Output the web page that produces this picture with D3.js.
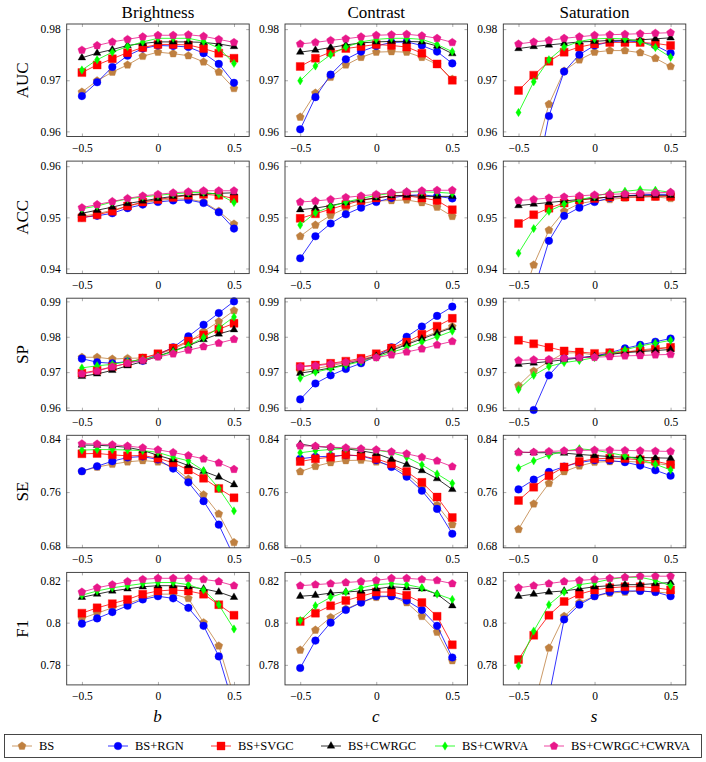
<!DOCTYPE html>
<html><head><meta charset="utf-8">
<script src="https://cdn.jsdelivr.net/npm/d3@7"></script>
<style>
html,body{margin:0;padding:0;background:#fff;}
svg text{font-family:"Liberation Serif","DejaVu Serif",serif;fill:#000;font-weight:400;}
</style></head>
<body><svg id="chart" width="706" height="762"></svg>
<script>
// ---------- data ----------
const xValues = [-0.5,-0.4,-0.3,-0.2,-0.1,0,0.1,0.2,0.3,0.4,0.5];
const xTicks = [-0.5,0,0.5];
const seriesNames = ["BS","BS+RGN","BS+SVGC","BS+CWRGC","BS+CWRVA","BS+CWRGC+CWRVA"];
const seriesColors = ["#bf8040","#0000ff","#ff0000","#000000","#00ff00","#e8178a"];
const seriesMarks = ["pentagon","circle","square","triangle","diamond","pentagon"];
const columnTitles = ["Brightness","Contrast","Saturation"];
const columnAxisLabels = ["b","c","s"];
const rowMetrics = ["AUC","ACC","SP","SE","F1"];
const rowYTicks = [[0.96,0.97,0.98],[0.94,0.95,0.96],[0.96,0.97,0.98,0.99],[0.68,0.76,0.84],[0.78,0.80,0.82]];
const rowYDomains = [[0.959,0.981],[0.939,0.961],[0.9591,0.9909],[0.6765,0.8451],[0.7705,0.8238]];

// rows of each array follow seriesNames order
const aucBrightness = [
 [0.9677,0.9699,0.9716,0.9730,0.9747,0.9755,0.9752,0.9748,0.9736,0.9716,0.9684],
 [0.9669,0.9696,0.9726,0.9748,0.9762,0.9768,0.9767,0.9765,0.9753,0.9732,0.9695],
 [0.9715,0.9730,0.9742,0.9754,0.9764,0.9770,0.9770,0.9769,0.9762,0.9753,0.9743],
 [0.9744,0.9753,0.9760,0.9768,0.9772,0.9775,0.9775,0.9775,0.9774,0.9771,0.9766],
 [0.9720,0.9740,0.9755,0.9766,0.9775,0.9782,0.9782,0.9782,0.9776,0.9763,0.9733],
 [0.9759,0.9768,0.9775,0.9780,0.9785,0.9788,0.9788,0.9789,0.9786,0.9780,0.9774]];
const aucContrast = [
 [0.9628,0.9675,0.9706,0.9730,0.9745,0.9755,0.9756,0.9755,0.9745,0.9731,0.9702],
 [0.9604,0.9667,0.9711,0.9741,0.9756,0.9767,0.9774,0.9775,0.9768,0.9756,0.9733],
 [0.9727,0.9743,0.9755,0.9762,0.9766,0.9770,0.9768,0.9765,0.9753,0.9732,0.9700],
 [0.9755,0.9759,0.9764,0.9769,0.9773,0.9775,0.9776,0.9776,0.9775,0.9767,0.9752],
 [0.9699,0.9728,0.9750,0.9765,0.9775,0.9780,0.9782,0.9782,0.9780,0.9770,0.9756],
 [0.9771,0.9774,0.9778,0.9781,0.9785,0.9788,0.9789,0.9790,0.9787,0.9782,0.9774]];
const aucSaturation = [
 [0.9450,0.9546,0.9653,0.9718,0.9740,0.9755,0.9758,0.9758,0.9754,0.9743,0.9727],
 [0.9350,0.9480,0.9630,0.9717,0.9750,0.9768,0.9775,0.9777,0.9775,0.9768,0.9753],
 [0.9680,0.9710,0.9737,0.9755,0.9765,0.9771,0.9774,0.9774,0.9774,0.9772,0.9768],
 [0.9762,0.9766,0.9769,0.9772,0.9775,0.9776,0.9778,0.9778,0.9779,0.9781,0.9783],
 [0.9637,0.9697,0.9740,0.9765,0.9776,0.9781,0.9782,0.9781,0.9776,0.9764,0.9745],
 [0.9771,0.9775,0.9778,0.9782,0.9785,0.9788,0.9789,0.9790,0.9791,0.9792,0.9793]];
const accBrightness = [
 [0.9502,0.9507,0.9514,0.9522,0.9528,0.9533,0.9536,0.9536,0.9530,0.9512,0.9487],
 [0.9500,0.9503,0.9508,0.9518,0.9525,0.9530,0.9533,0.9534,0.9528,0.9510,0.9478],
 [0.9499,0.9505,0.9512,0.9522,0.9530,0.9535,0.9539,0.9543,0.9545,0.9543,0.9537],
 [0.9508,0.9514,0.9520,0.9527,0.9532,0.9537,0.9541,0.9544,0.9546,0.9547,0.9548],
 [0.9517,0.9522,0.9530,0.9536,0.9540,0.9543,0.9546,0.9548,0.9549,0.9545,0.9529],
 [0.9519,0.9525,0.9531,0.9537,0.9542,0.9545,0.9548,0.9550,0.9552,0.9552,0.9552]];
const accContrast = [
 [0.9463,0.9485,0.9504,0.9518,0.9527,0.9532,0.9533,0.9534,0.9529,0.9520,0.9502],
 [0.9420,0.9463,0.9488,0.9506,0.9519,0.9530,0.9538,0.9543,0.9544,0.9541,0.9537],
 [0.9498,0.9507,0.9516,0.9525,0.9533,0.9538,0.9542,0.9542,0.9538,0.9533,0.9515],
 [0.9515,0.9518,0.9523,0.9529,0.9534,0.9538,0.9542,0.9543,0.9541,0.9541,0.9541],
 [0.9485,0.9509,0.9521,0.9530,0.9537,0.9543,0.9547,0.9550,0.9550,0.9549,0.9547],
 [0.9530,0.9532,0.9535,0.9539,0.9542,0.9545,0.9548,0.9550,0.9552,0.9553,0.9553]];
const accSaturation = [
 [0.9320,0.9407,0.9475,0.9512,0.9527,0.9532,0.9535,0.9538,0.9540,0.9540,0.9537],
 [0.9250,0.9356,0.9454,0.9503,0.9519,0.9530,0.9538,0.9542,0.9544,0.9545,0.9545],
 [0.9488,0.9505,0.9518,0.9528,0.9534,0.9537,0.9540,0.9540,0.9540,0.9541,0.9541],
 [0.9523,0.9526,0.9529,0.9532,0.9535,0.9537,0.9540,0.9542,0.9543,0.9543,0.9543],
 [0.9430,0.9478,0.9512,0.9526,0.9534,0.9541,0.9548,0.9551,0.9554,0.9553,0.9549],
 [0.9533,0.9535,0.9538,0.9540,0.9542,0.9544,0.9545,0.9546,0.9547,0.9548,0.9549]];
const spBrightness = [
 [0.9742,0.9742,0.9737,0.9739,0.9740,0.9750,0.9765,0.9785,0.9815,0.9843,0.9874],
 [0.9738,0.9728,0.9725,0.9730,0.9732,0.9750,0.9770,0.9801,0.9834,0.9867,0.9900],
 [0.9697,0.9705,0.9715,0.9725,0.9740,0.9752,0.9768,0.9788,0.9805,0.9821,0.9838],
 [0.9688,0.9695,0.9705,0.9718,0.9730,0.9745,0.9760,0.9775,0.9792,0.9808,0.9820],
 [0.9712,0.9718,0.9722,0.9730,0.9736,0.9745,0.9758,0.9775,0.9798,0.9825,0.9856],
 [0.9695,0.9703,0.9715,0.9725,0.9733,0.9743,0.9752,0.9762,0.9772,0.9782,0.9793]];
const spContrast = [
 [0.9703,0.9710,0.9718,0.9727,0.9736,0.9747,0.9764,0.9781,0.9798,0.9813,0.9829],
 [0.9623,0.9668,0.9691,0.9709,0.9725,0.9745,0.9770,0.9800,0.9829,0.9859,0.9885],
 [0.9716,0.9720,0.9725,0.9731,0.9739,0.9752,0.9768,0.9785,0.9807,0.9830,0.9852],
 [0.9697,0.9704,0.9712,0.9722,0.9733,0.9745,0.9761,0.9778,0.9794,0.9810,0.9826],
 [0.9683,0.9700,0.9710,0.9720,0.9730,0.9742,0.9756,0.9769,0.9785,0.9800,0.9816],
 [0.9715,0.9718,0.9723,0.9728,0.9734,0.9741,0.9749,0.9757,0.9766,0.9777,0.9787]];
const spSaturation = [
 [0.9662,0.9703,0.9730,0.9754,0.9755,0.9748,0.9750,0.9757,0.9762,0.9768,0.9770],
 [0.9500,0.9593,0.9691,0.9738,0.9741,0.9745,0.9755,0.9767,0.9777,0.9786,0.9795],
 [0.9790,0.9780,0.9770,0.9760,0.9757,0.9753,0.9755,0.9757,0.9760,0.9765,0.9770],
 [0.9722,0.9726,0.9730,0.9735,0.9740,0.9745,0.9750,0.9755,0.9758,0.9761,0.9764],
 [0.9651,0.9691,0.9716,0.9727,0.9733,0.9741,0.9752,0.9763,0.9774,0.9782,0.9790],
 [0.9733,0.9735,0.9736,0.9739,0.9741,0.9742,0.9744,0.9746,0.9747,0.9749,0.9750]];
const seBrightness = [
 [0.7912,0.7975,0.8018,0.8053,0.8073,0.8053,0.7977,0.7796,0.7560,0.7273,0.6845],
 [0.7912,0.7987,0.8063,0.8118,0.8133,0.8088,0.7952,0.7746,0.7464,0.7112,0.6630],
 [0.8174,0.8179,0.8158,0.8143,0.8148,0.8108,0.8038,0.7932,0.7806,0.7655,0.7514],
 [0.8305,0.8302,0.8290,0.8270,0.8225,0.8150,0.8083,0.7997,0.7912,0.7826,0.7711],
 [0.8229,0.8237,0.8237,0.8230,0.8222,0.8195,0.8125,0.8068,0.7922,0.7655,0.7318],
 [0.8325,0.8320,0.8310,0.8290,0.8264,0.8234,0.8194,0.8148,0.8098,0.8038,0.7942]];
const seContrast = [
 [0.7907,0.7987,0.8043,0.8073,0.8078,0.8053,0.7997,0.7872,0.7674,0.7404,0.7112],
 [0.8098,0.8128,0.8138,0.8153,0.8143,0.8078,0.7977,0.7831,0.7620,0.7348,0.6976],
 [0.8058,0.8098,0.8123,0.8158,0.8143,0.8098,0.8023,0.7907,0.7746,0.7525,0.7218],
 [0.8320,0.8284,0.8269,0.8249,0.8219,0.8179,0.8093,0.8013,0.7922,0.7801,0.7640],
 [0.8189,0.8219,0.8239,0.8254,0.8244,0.8229,0.8194,0.8123,0.8008,0.7872,0.7731],
 [0.8294,0.8289,0.8274,0.8264,0.8249,0.8234,0.8204,0.8174,0.8123,0.8068,0.7982]];
const seSaturation = [
 [0.7042,0.7424,0.7731,0.7907,0.7992,0.8048,0.8058,0.8060,0.8050,0.8030,0.8000],
 [0.7640,0.7786,0.7902,0.7982,0.8043,0.8078,0.8073,0.8048,0.7997,0.7927,0.7846],
 [0.7474,0.7674,0.7846,0.7977,0.8058,0.8098,0.8108,0.8103,0.8083,0.8063,0.8013],
 [0.8200,0.8190,0.8190,0.8184,0.8164,0.8148,0.8133,0.8123,0.8118,0.8113,0.8108],
 [0.7962,0.8068,0.8153,0.8214,0.8249,0.8229,0.8189,0.8143,0.8083,0.8018,0.7932],
 [0.8194,0.8199,0.8209,0.8219,0.8224,0.8229,0.8229,0.8224,0.8219,0.8214,0.8209]];
const f1Brightness = [
 [0.8020,0.8045,0.8070,0.8090,0.8115,0.8135,0.8135,0.8115,0.8000,0.7890,0.7650],
 [0.7995,0.8020,0.8050,0.8080,0.8110,0.8125,0.8115,0.8070,0.7985,0.7840,0.7600],
 [0.8045,0.8070,0.8090,0.8110,0.8135,0.8150,0.8155,0.8150,0.8135,0.8085,0.8035],
 [0.8120,0.8135,0.8150,0.8160,0.8170,0.8175,0.8175,0.8170,0.8160,0.8145,0.8120],
 [0.8130,0.8150,0.8165,0.8175,0.8185,0.8190,0.8190,0.8180,0.8155,0.8085,0.7970],
 [0.8145,0.8165,0.8180,0.8195,0.8205,0.8210,0.8210,0.8210,0.8205,0.8195,0.8175]];
const f1Contrast = [
 [0.7870,0.7965,0.8025,0.8065,0.8095,0.8120,0.8125,0.8095,0.8030,0.7955,0.7820],
 [0.7785,0.7915,0.8000,0.8060,0.8095,0.8125,0.8125,0.8105,0.8060,0.7985,0.7835],
 [0.8005,0.8045,0.8080,0.8105,0.8125,0.8145,0.8145,0.8130,0.8095,0.8030,0.7895],
 [0.8125,0.8130,0.8140,0.8145,0.8150,0.8160,0.8170,0.8165,0.8160,0.8135,0.8080],
 [0.8010,0.8080,0.8120,0.8145,0.8165,0.8180,0.8185,0.8180,0.8165,0.8135,0.8110],
 [0.8175,0.8180,0.8185,0.8190,0.8195,0.8200,0.8210,0.8210,0.8205,0.8200,0.8185]];
const f1Saturation = [
 [0.7450,0.7600,0.7880,0.8030,0.8095,0.8125,0.8140,0.8145,0.8150,0.8145,0.8140],
 [0.7200,0.7400,0.7650,0.8015,0.8085,0.8125,0.8145,0.8150,0.8150,0.8145,0.8125],
 [0.7825,0.7940,0.8035,0.8100,0.8135,0.8155,0.8165,0.8170,0.8170,0.8165,0.8155],
 [0.8125,0.8135,0.8145,0.8150,0.8160,0.8170,0.8175,0.8180,0.8180,0.8185,0.8190],
 [0.7795,0.7960,0.8085,0.8145,0.8180,0.8190,0.8205,0.8215,0.8215,0.8200,0.8175],
 [0.8165,0.8175,0.8185,0.8195,0.8200,0.8205,0.8210,0.8215,0.8220,0.8220,0.8220]];

const panelData = [
 [aucBrightness, aucContrast, aucSaturation],
 [accBrightness, accContrast, accSaturation],
 [spBrightness, spContrast, spSaturation],
 [seBrightness, seContrast, seSaturation],
 [f1Brightness, f1Contrast, f1Saturation]];

// ---------- layout ----------
const svg = d3.select("#chart");
const colLeft = [66.7, 285, 503.3];
const panelW = 182.5;
const rowTop = [24, 161.1, 298.2, 435.3, 572.4];
const panelH = 112.5;
const defs = svg.append("defs");
const FONT = '"Liberation Serif","DejaVu Serif",serif';

function markPath(type) {
  if (type === "circle") return d3.symbol(d3.symbolCircle, 46)();
  if (type === "square") { const s = 4; return `M${-s},${-s}H${s}V${s}H${-s}Z`; }
  if (type === "triangle") { const r = 4.4; return `M0,${-r}L${r*0.866},${r*0.5}L${-r*0.866},${r*0.5}Z`; }
  if (type === "diamond") return "M0,-4.2L2.6,0L0,4.2L-2.6,0Z";
  if (type === "pentagon") {
    const r = 4.2; let p = [];
    for (let k = 0; k < 5; k++) { const a = -Math.PI/2 + k*2*Math.PI/5; p.push([r*Math.cos(a), r*Math.sin(a)]); }
    return "M" + p.map(q => q[0].toFixed(2)+","+q[1].toFixed(2)).join("L") + "Z";
  }
}
const fmtY = d => String(+d.toFixed(2));
const fmtX = d => d < 0 ? "\u2212" + String(Math.abs(d)) : String(d);

rowMetrics.forEach((metric, ri) => {
  columnTitles.forEach((title, ci) => {
    const x0 = colLeft[ci], y0 = rowTop[ri];
    const x = d3.scaleLinear().domain([-0.6, 0.6]).range([x0, x0 + panelW]);
    const y = d3.scaleLinear().domain(rowYDomains[ri]).range([y0 + panelH, y0]);
    const id = `c${ri}_${ci}`;
    defs.append("clipPath").attr("id", id).append("rect")
      .attr("x", x0).attr("y", y0).attr("width", panelW).attr("height", panelH);
    defs.append("clipPath").attr("id", id + "m").append("rect")
      .attr("x", x0 - 5).attr("y", y0 - 5).attr("width", panelW + 10).attr("height", panelH + 10);
    const g = svg.append("g");

    const tickCol = "#8a8a8a";
    const axL = g.append("g").attr("transform", `translate(${x0},0)`)
      .call(d3.axisLeft(y).tickValues(rowYTicks[ri]).tickFormat(fmtY).tickSizeInner(-3).tickSizeOuter(0).tickPadding(6));
    const axR = g.append("g").attr("transform", `translate(${x0 + panelW},0)`)
      .call(d3.axisRight(y).tickValues(rowYTicks[ri]).tickFormat("").tickSizeInner(-3).tickSizeOuter(0));
    const axB = g.append("g").attr("transform", `translate(0,${y0 + panelH})`)
      .call(d3.axisBottom(x).tickValues(xTicks).tickFormat(fmtX).tickSizeInner(-3).tickSizeOuter(0).tickPadding(7));
    const axT = g.append("g").attr("transform", `translate(0,${y0})`)
      .call(d3.axisTop(x).tickValues(xTicks).tickFormat("").tickSizeInner(-3).tickSizeOuter(0));
    [axL, axR, axB, axT].forEach(a => {
      a.attr("font-family", null).attr("font-size", null);
      a.select(".domain").remove();
      a.selectAll(".tick line").attr("stroke", tickCol).attr("stroke-width", 0.7);
      a.selectAll(".tick text").style("font-family", FONT)
        .style("font-size", "11.5px").style("font-weight", "400").attr("fill", "#222");
    });

    const series = panelData[ri][ci];
    series.forEach((vals, si) => {
      const pts = vals.map((v, k) => [xValues[k], v]);
      const line = d3.line().x(d => x(d[0])).y(d => y(d[1]));
      g.append("path").attr("clip-path", `url(#${id})`)
        .attr("d", line(pts)).attr("fill", "none")
        .attr("stroke", seriesColors[si]).attr("stroke-width", 0.8);
      const mg = g.append("g").attr("clip-path", `url(#${id}m)`);
      const inView = pts.filter(d => y(d[1]) <= y0 + panelH + 4 && y(d[1]) >= y0 - 4);
      mg.selectAll("path").data(inView).join("path")
        .attr("transform", d => `translate(${x(d[0])},${y(d[1])})`)
        .attr("d", markPath(seriesMarks[si]))
        .attr("fill", seriesColors[si])
        .attr("stroke", seriesColors[si]).attr("stroke-width", 0.6).attr("stroke-opacity", 0.6);
    });

    g.append("rect").attr("x", x0).attr("y", y0).attr("width", panelW).attr("height", panelH)
      .attr("fill", "none").attr("stroke", "#333").attr("stroke-width", 0.9);

    if (ri === 0) {
      svg.append("text").attr("x", x0 + panelW / 2).attr("y", 17.5)
        .attr("text-anchor", "middle").style("font-family", FONT).style("font-size", "17px").text(title);
    }
    if (ci === 0) {
      svg.append("text").attr("transform", `translate(27.5,${y0 + panelH / 2}) rotate(-90)`)
        .attr("text-anchor", "middle").style("font-family", FONT).style("font-size", "17px").text(metric);
    }
    if (ri === rowMetrics.length - 1) {
      svg.append("text").attr("x", x0 + panelW / 2 - 0.5).attr("y", 722)
        .attr("text-anchor", "middle").style("font-family", FONT).style("font-size", "17px").style("font-style", "italic")
        .text(columnAxisLabels[ci]);
    }
  });
});

// ---------- legend ----------
const legY = 746;
const legendG = svg.append("g");
legendG.append("rect").attr("x", 4.5).attr("y", 734.5).attr("width", 697).attr("height", 23)
  .attr("fill", "#fff").attr("stroke", "#333").attr("stroke-width", 0.9);
const legMarkX = [22, 118, 221, 331, 445, 554];
seriesNames.forEach((name, si) => {
  const mx = legMarkX[si];
  legendG.append("line").attr("x1", mx - 10).attr("x2", mx + 10).attr("y1", legY).attr("y2", legY)
    .attr("stroke", seriesColors[si]).attr("stroke-width", 0.8);
  legendG.append("path").attr("transform", `translate(${mx},${legY})`).attr("d", markPath(seriesMarks[si]))
    .attr("fill", seriesColors[si]).attr("stroke", seriesColors[si]).attr("stroke-width", 0.6).attr("stroke-opacity", 0.6);
  legendG.append("text").attr("x", mx + 17).attr("y", legY + 4.2)
    .style("font-family", FONT).style("font-size", "12.5px").text(name);
});
</script></body></html>
